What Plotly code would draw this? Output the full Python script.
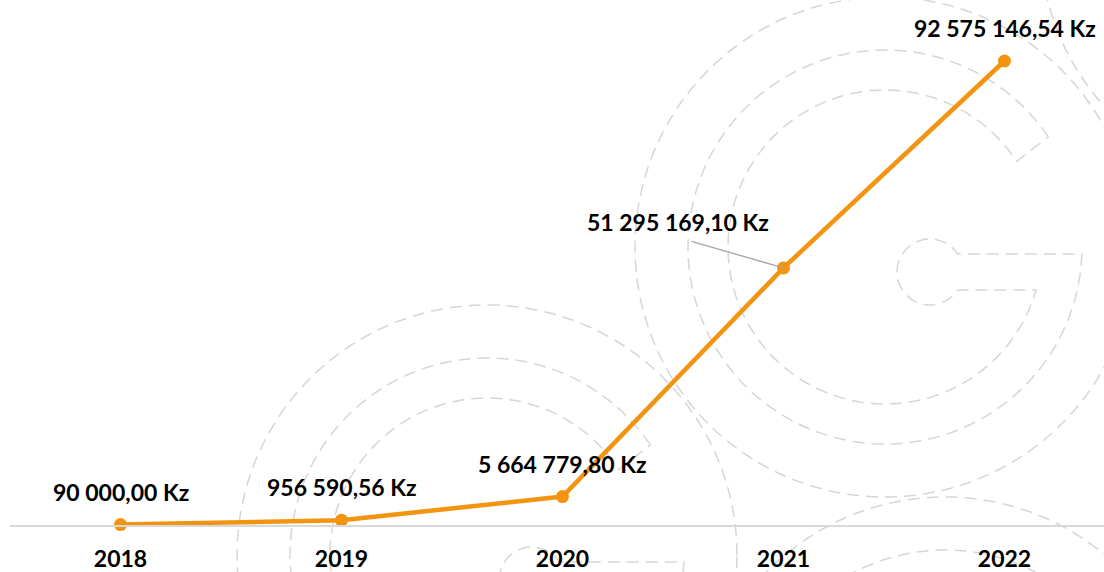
import numpy as np
import plotly.graph_objects as go

years = ["2018", "2019", "2020", "2021", "2022"]
values = [90000.00, 956590.56, 5664779.80, 51295169.10, 92575146.54]


def fmt_kz(v):
    s = f"{v:,.2f}"
    s = s.replace(",", " ").replace(".", ",")
    return s + " Kz"


labels = [fmt_kz(v) for v in values]

W, H = 1104, 572
ML, MR, MT, MB = 10, 0, 0, 47
PW = W - ML - MR
PH = H - MT - MB


def to_paper(px, py):
    return (px - ML) / PW, (H - MB - py) / PH


def arc(cx, cy, r, t0, t1, n=80):
    t = np.radians(np.linspace(t0, t1, n))
    return [(cx + r * np.cos(a), cy - r * np.sin(a)) for a in t]


def path_of(pts, close=True):
    s = ""
    for i, (x, y) in enumerate(pts):
        px, py = to_paper(x, y)
        s += ("M" if i == 0 else "L") + f"{px:.5f},{py:.5f}"
    return s + ("Z" if close else "")


def logo_paths(cx, cy):
    ring = arc(cx, cy, 250, 0, 360, 160)
    g = arc(cx, cy, 197, 34, 352, 120)
    g += [(cx + 197, cy + 7), (cx + 73, cy + 7)]
    g += arc(cx + 45, cy + 25, 33, 33, 327, 40)
    g += [(cx + 151, cy + 43)]
    g += arc(cx, cy, 157, -16, -327, 110)
    return [path_of(ring), path_of(g)]


shapes = []
for (cx, cy) in [(885, 247), (487, 555), (945, 747), (1290, -61)]:
    for p in logo_paths(cx, cy):
        shapes.append(dict(type="path", xref="paper", yref="paper", path=p,
                           line=dict(color="#d6d6d6", width=1.5, dash="12px,7px"),
                           layer="below"))

fig = go.Figure()
fig.add_trace(go.Scatter(
    x=years, y=values, mode="lines+markers",
    line=dict(color="#F39410", width=4.5),
    marker=dict(color="#F39410", size=13),
    hoverinfo="skip", showlegend=False, cliponaxis=False,
))

FONT = "Lato, 'Open Sans', sans-serif"
font_lbl = dict(family=FONT, size=23, color="#000000")
annotations = []
for i, (v, lab) in enumerate(zip(values, labels)):
    if i == 3:
        # leader line
        annotations.append(dict(
            x=i, y=v, xref="x", yref="y", text=" ",
            showarrow=True, arrowhead=0, arrowwidth=1.3, arrowcolor="#a6a6a6",
            ax=-94, ay=-27, standoff=0, font=dict(size=2),
        ))
        annotations.append(dict(
            x=i, y=v, xref="x", yref="y", text=f"<b>{lab}</b>",
            showarrow=False, xshift=-106, yshift=46, font=font_lbl,
        ))
    else:
        annotations.append(dict(
            x=i, y=v, xref="x", yref="y", text=f"<b>{lab}</b>",
            showarrow=False, yshift=33, font=font_lbl,
        ))

ymax = values[-1] * PH / (H - MB - 61)

fig.update_layout(
    width=W, height=H,
    margin=dict(l=ML, r=MR, t=MT, b=MB, autoexpand=False),
    paper_bgcolor="white", plot_bgcolor="rgba(0,0,0,0)",
    shapes=shapes, annotations=annotations,
    xaxis=dict(
        type="category", range=[-0.5, -0.5 + PW / 221.0],
        showgrid=False, zeroline=False, automargin=False,
        showline=True, linecolor="#d9d9d9", linewidth=2,
        ticks="", ticklabelstandoff=12,
        tickfont=dict(family=FONT, size=23, color="#000000"),
        tickvals=years, ticktext=[f"<b>{y}</b>" for y in years],
        fixedrange=True,
    ),
    yaxis=dict(range=[0, ymax], visible=False, fixedrange=True, automargin=False),
)

fig.write_html("out.html", config={"displayModeBar": False},
               post_script="document.body.style.margin='0';")
